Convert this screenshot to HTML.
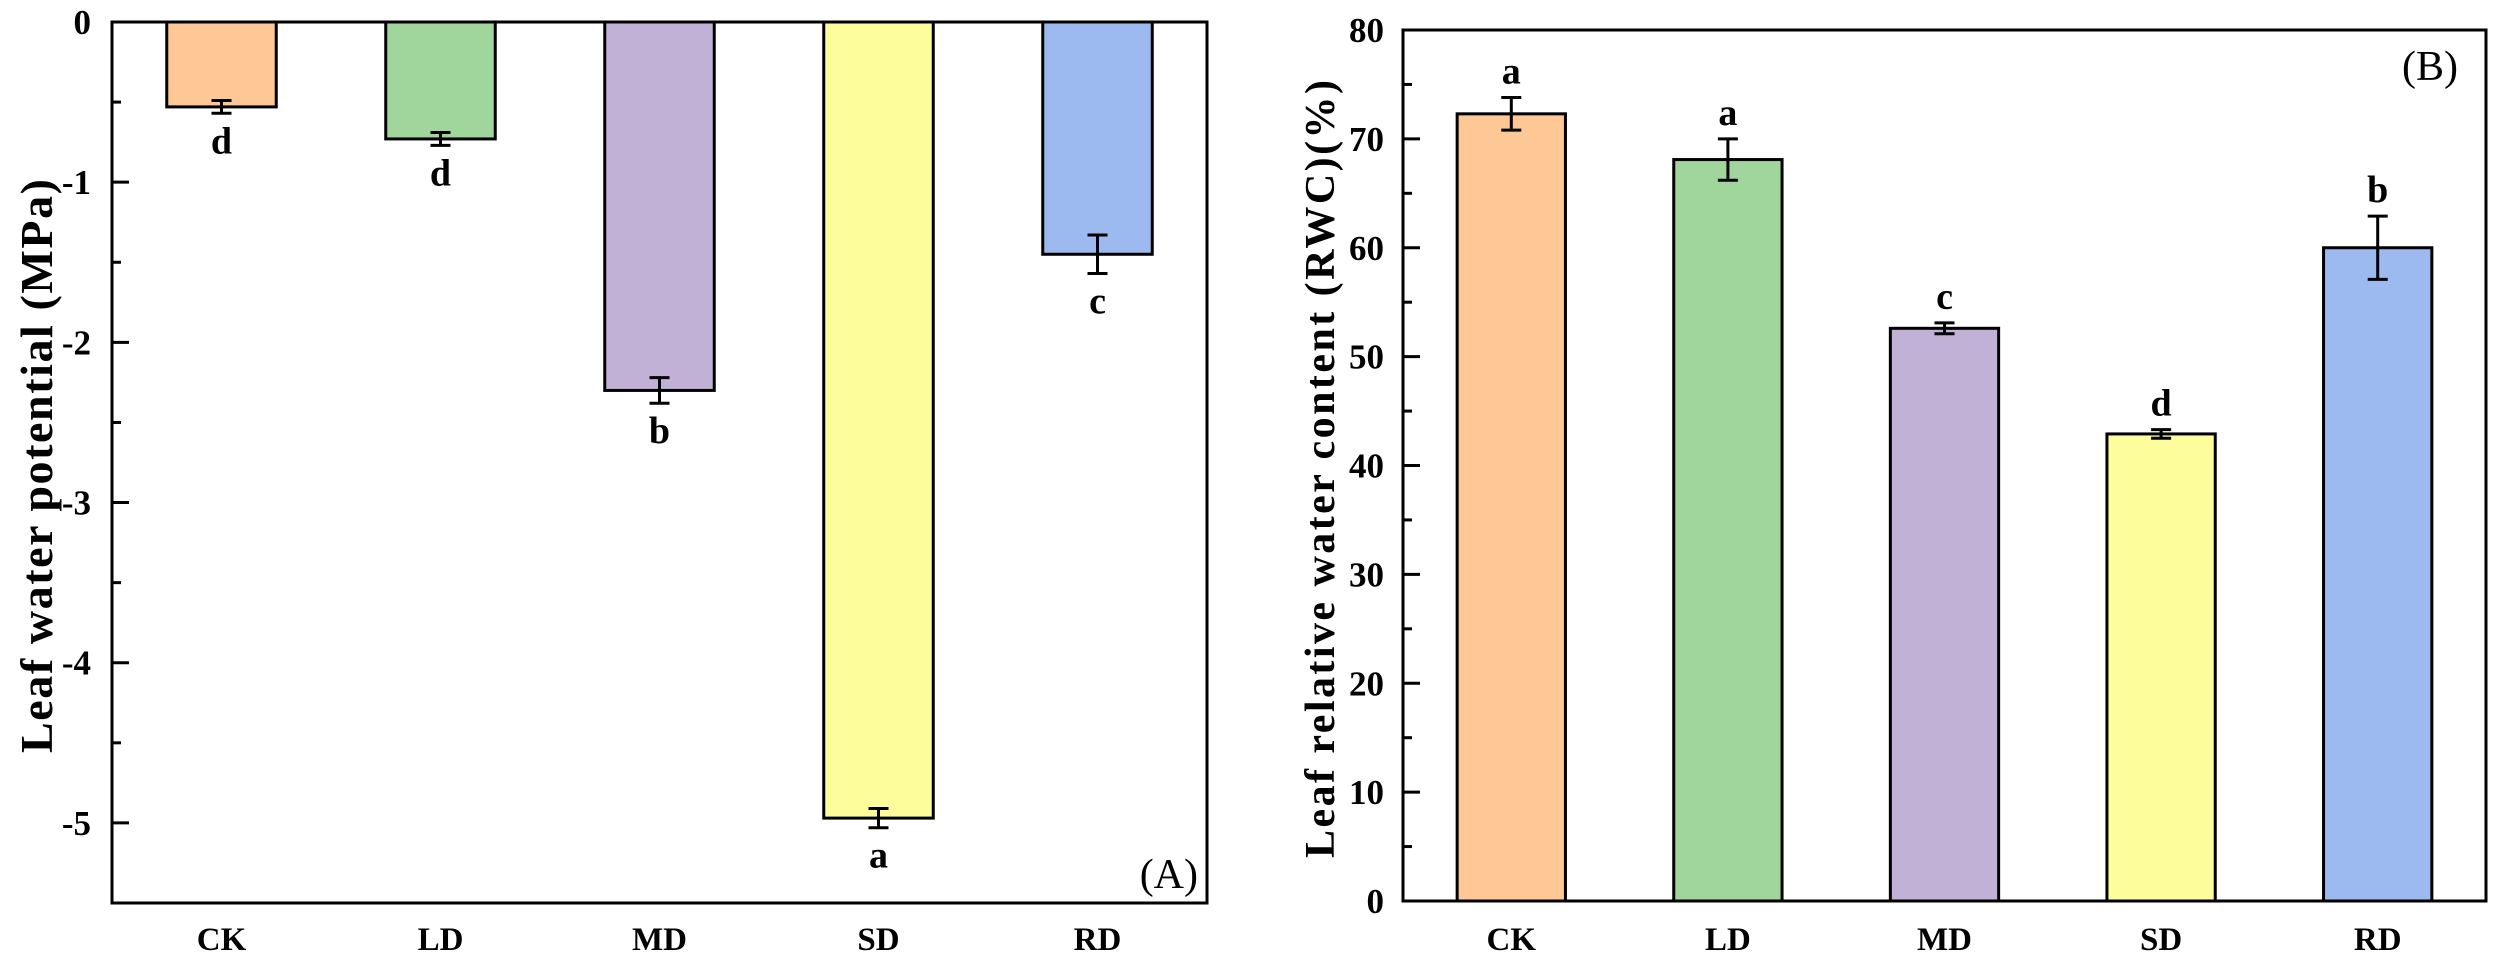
<!DOCTYPE html>
<html><head><meta charset="utf-8"><style>
html,body{margin:0;padding:0;background:#fff;}
svg{display:block;font-family:"Liberation Serif",serif;}
</style></head><body>
<svg id="chart" width="2500" height="962" viewBox="0 0 2500 962" xmlns="http://www.w3.org/2000/svg">
<g id="pa"></g>
<g id="pb"></g>
</svg>
<script>
const categories = ["CK","LD","MD","SD","RD"];
const colors = ["#fdc796","#a0d59c","#c2b1d6","#fdfd9c","#9cbaf0"];
const waterPotential = [-0.53,-0.73,-2.30,-4.97,-1.45];
const waterPotentialErr = [0.04,0.04,0.08,0.06,0.12];
const waterPotentialLetters = ["d","d","b","a","c"];
const rwc = [72.3,68.1,52.6,42.9,60.0];
const rwcErr = [1.5,1.9,0.5,0.4,2.9];
const rwcLetters = ["a","a","c","d","b"];
const ticksA = [0,-1,-2,-3,-4,-5];
const ticksB = [0,10,20,30,40,50,60,70,80];

const NS = "http://www.w3.org/2000/svg";
function mk(parent, tag, attrs, text){
  const e = document.createElementNS(NS, tag);
  for (const k in attrs) e.setAttribute(k, attrs[k]);
  if (text !== undefined) e.textContent = text;
  parent.appendChild(e);
  return e;
}

function drawPanel(g, cfg){
  const {x0,x1,yTop,yBot,vTop,vBot} = cfg;
  const y = v => yTop + (vTop - v) / (vTop - vBot) * (yBot - yTop);
  const band = (x1 - x0) / categories.length;
  const xc = i => x0 + band * (i + 0.5);
  const bw = band * 0.5;
  const base = y(0);
  cfg.values.forEach((v,i)=>{
    const top = Math.min(y(v), base), h = Math.abs(y(v) - base);
    const r = mk(g,'rect',{x:xc(i)-bw/2,y:top,width:bw,height:h,fill:colors[i],stroke:'#000','stroke-width':3});
    
    
    const e = cfg.errs[i];
    const eg = mk(g,'g',{stroke:'#000','stroke-width':3});
    
    
    mk(eg,'line',{x1:xc(i),x2:xc(i),y1:y(v+e),y2:y(v-e)});
    mk(eg,'line',{x1:xc(i)-10,x2:xc(i)+10,y1:y(v+e),y2:y(v+e)});
    mk(eg,'line',{x1:xc(i)-10,x2:xc(i)+10,y1:y(v-e),y2:y(v-e)});
    const ly = cfg.letterBelow ? y(v - e) + 40 : y(v + e) - 14;
    const t = mk(g,'text',{x:xc(i),y:ly,'text-anchor':'middle','font-size':38,'font-weight':'bold'},cfg.letters[i]);
    
    
    const c = mk(g,'text',{x:xc(i),y:950,'text-anchor':'middle','font-size':33,'font-weight':'bold'},categories[i]);
    
    
  });
  cfg.ticks.forEach(tv=>{
    const ty = y(tv);
    mk(g,'line',{x1:x0,x2:x0+17,y1:ty,y2:ty,stroke:'#000','stroke-width':3});
    const t = mk(g,'text',{x:cfg.labelX,y:ty+12,'text-anchor':'end','font-size':35,'font-weight':'bold'},String(tv));
    
    
  });
  for (let k=0;k<cfg.ticks.length-1;k++){
    const mv = (cfg.ticks[k]+cfg.ticks[k+1])/2;
    mk(g,'line',{x1:x0,x2:x0+9,y1:y(mv),y2:y(mv),stroke:'#000','stroke-width':3});
  }
  const fr = mk(g,'rect',{x:x0,y:yTop,width:x1-x0,height:yBot-yTop,fill:'none',stroke:'#000','stroke-width':3});
  
  
  const tt = mk(g,'text',{x:0,y:0,'text-anchor':'middle','font-size':cfg.titleSize,'font-weight':'bold',textLength:cfg.titleLen,lengthAdjust:'spacing',transform:`translate(${cfg.titleX},${cfg.titleY}) rotate(-90)`},cfg.title);
  
  
  const pl = mk(g,'text',{x:cfg.panelX,y:cfg.panelY,'text-anchor':'end','font-size':42},cfg.panel);
  
  
}

drawPanel(document.getElementById('pa'),{x0:112,x1:1207,yTop:22,yBot:903,vTop:0,vBot:-5.5,
  values:waterPotential,errs:waterPotentialErr,letters:waterPotentialLetters,letterBelow:true,
  ticks:ticksA,labelX:91,title:"Leaf water potential (MPa)",titleX:52,titleY:466,titleSize:46,titleLen:574,
  panel:"(A)",panelX:1198,panelY:888});
drawPanel(document.getElementById('pb'),{x0:1403,x1:2486,yTop:30,yBot:901,vTop:80,vBot:0,
  values:rwc,errs:rwcErr,letters:rwcLetters,letterBelow:false,
  ticks:ticksB,labelX:1384,title:"Leaf relative water content (RWC)(%)",titleX:1334,titleY:469,titleSize:42,titleLen:778,
  panel:"(B)",panelX:2458,panelY:80});
</script>
</body></html>
